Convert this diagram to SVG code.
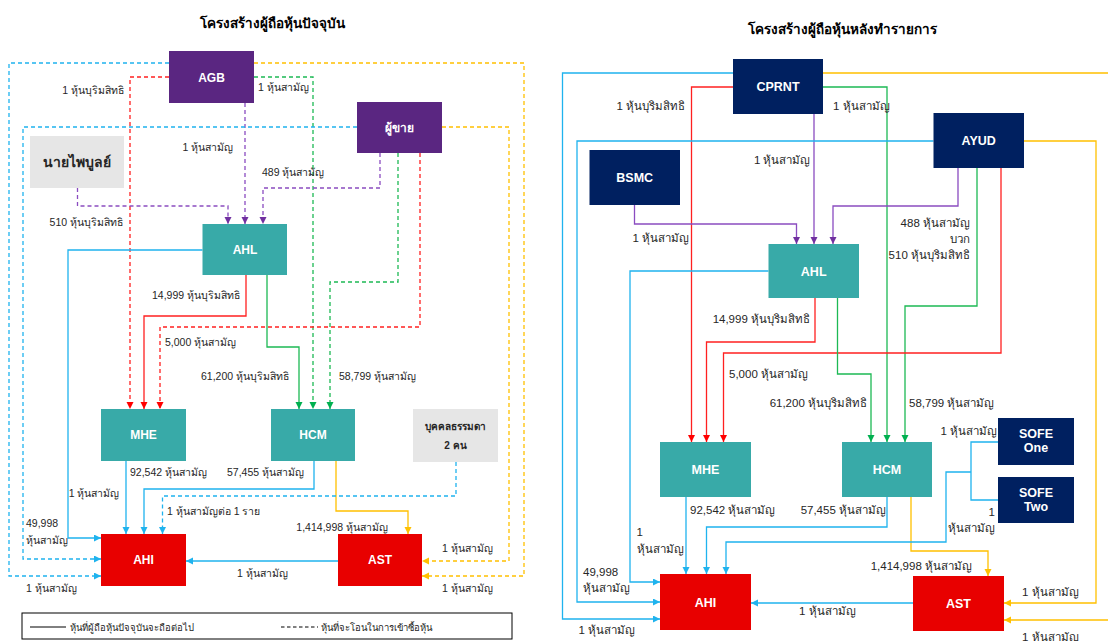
<svg xmlns="http://www.w3.org/2000/svg" width="1108" height="641" viewBox="0 0 1108 641">
<style>
.t{font-family:"Liberation Sans",Arial,sans-serif;fill:#262626}
.title{font-size:13.5px;font-weight:bold;fill:#000;text-anchor:middle}
.l{font-size:10.5px}
.r{font-size:11.5px}
.e{text-anchor:end}
.bx{font-family:"Liberation Sans",Arial,sans-serif;font-weight:bold;fill:#fff;text-anchor:middle}
.c{fill:none;stroke-width:1.3}
.d{stroke-dasharray:4 3}
.cy{stroke:#1FB3EE}.or{stroke:#FFC000}.rd{stroke:#FF2020}.gr{stroke:#1DB954}.pu{stroke:#8A4CC0}
.pur{fill:#5A2681}.nav{fill:#002060}.tea{fill:#38AAA8}.red{fill:#E80000}.gry{fill:#E6E6E6}
</style>
<defs>
<marker id="aC" markerUnits="userSpaceOnUse" markerWidth="8" markerHeight="8" refX="7" refY="3.5" orient="auto"><path d="M0,0 L7,3.5 L0,7 z" fill="#1FB3EE"/></marker>
<marker id="aO" markerUnits="userSpaceOnUse" markerWidth="8" markerHeight="8" refX="7" refY="3.5" orient="auto"><path d="M0,0 L7,3.5 L0,7 z" fill="#FFC000"/></marker>
<marker id="aR" markerUnits="userSpaceOnUse" markerWidth="8" markerHeight="8" refX="7" refY="3.5" orient="auto"><path d="M0,0 L7,3.5 L0,7 z" fill="#FF0000"/></marker>
<marker id="aG" markerUnits="userSpaceOnUse" markerWidth="8" markerHeight="8" refX="7" refY="3.5" orient="auto"><path d="M0,0 L7,3.5 L0,7 z" fill="#00B050"/></marker>
<marker id="aP" markerUnits="userSpaceOnUse" markerWidth="8" markerHeight="8" refX="7" refY="3.5" orient="auto"><path d="M0,0 L7,3.5 L0,7 z" fill="#7030A0"/></marker>
</defs>
<rect width="1108" height="641" fill="#fff"/>

<text class="t title" x="272" y="28">โครงสร้างผู้ถือหุ้นปัจจุบัน</text>
<text class="t title" x="842" y="34">โครงสร้างผู้ถือหุ้นหลังทำรายการ</text>

<g id="connectors">
<!-- left -->
<path class="c d cy" d="M169,63 H9 V576 H101" marker-end="url(#aC)"/>
<path class="c d or" d="M254,63 H524 V576 H422" marker-end="url(#aO)"/>
<path class="c d rd" d="M169,77 H130 V409" marker-end="url(#aR)"/>
<path class="c d gr" d="M254,77 H313 V409" marker-end="url(#aG)"/>
<path class="c d pu" d="M245,103 V224" marker-end="url(#aP)"/>
<path class="c d cy" d="M357,127 H23 V559 H101" marker-end="url(#aC)"/>
<path class="c d or" d="M442,127 H509 V561 H422" marker-end="url(#aO)"/>
<path class="c d pu" d="M380,153 V188 H263 V224" marker-end="url(#aP)"/>
<path class="c d gr" d="M398,153 V282 H330 V409" marker-end="url(#aG)"/>
<path class="c d rd" d="M420,153 V327 H160 V409" marker-end="url(#aR)"/>
<path class="c d pu" d="M77.5,188 V206 H228 V224" marker-end="url(#aP)"/>
<path class="c cy" d="M202.5,250 H68 V538 H101" marker-end="url(#aC)"/>
<path class="c rd" d="M246,275 V316 H144 V409" marker-end="url(#aR)"/>
<path class="c gr" d="M267,275 V347 H299 V409" marker-end="url(#aG)"/>
<path class="c cy" d="M126,461 V534" marker-end="url(#aC)"/>
<path class="c cy" d="M314,461 V489 H144 V534" marker-end="url(#aC)"/>
<path class="c or" d="M336,461 V511 H408 V534" marker-end="url(#aO)"/>
<path class="c d cy" d="M456,462 V496 H162.5 V534" marker-end="url(#aC)"/>
<path class="c cy" d="M338,561 H186" marker-end="url(#aC)"/>
<!-- right -->
<path class="c cy" d="M733,73 H562.5 V619 H660" marker-end="url(#aC)"/>
<path class="c or" d="M823,73 H1114 V620 H1004" marker-end="url(#aO)"/>
<path class="c rd" d="M733,87 H691.5 V442" marker-end="url(#aR)"/>
<path class="c gr" d="M823,87 H887 V442" marker-end="url(#aG)"/>
<path class="c pu" d="M814,114 V244" marker-end="url(#aP)"/>
<path class="c cy" d="M933.5,141 H577 V602 H660" marker-end="url(#aC)"/>
<path class="c or" d="M1024,141 H1096 V603 H1004" marker-end="url(#aO)"/>
<path class="c pu" d="M634.5,205 V224 H796.5 V244" marker-end="url(#aP)"/>
<path class="c pu" d="M958,168 V206 H833 V244" marker-end="url(#aP)"/>
<path class="c gr" d="M977,168 V306 H905 V442" marker-end="url(#aG)"/>
<path class="c rd" d="M1001,168 V353 H723.5 V442" marker-end="url(#aR)"/>
<path class="c cy" d="M768.5,271 H630 V582 H660" marker-end="url(#aC)"/>
<path class="c rd" d="M815,298 V342 H706.5 V442" marker-end="url(#aR)"/>
<path class="c gr" d="M837.5,298 V374 H871 V442" marker-end="url(#aG)"/>
<path class="c cy" d="M686,497 V574" marker-end="url(#aC)"/>
<path class="c cy" d="M887,497 V527 H706.5 V574" marker-end="url(#aC)"/>
<path class="c or" d="M911,497 V551 H988 V576" marker-end="url(#aO)"/>
<path class="c cy" d="M998,442 H971 V500 H998"/>
<path class="c cy" d="M971,472 H946 V542 H726 V574" marker-end="url(#aC)"/>
<path class="c cy" d="M913,603 H751" marker-end="url(#aC)"/>
</g>

<!-- left nodes -->
<g id="agb"><rect class="pur" x="169" y="51" width="85" height="52"/><text class="bx" x="211.5" y="81.5" font-size="12">AGB</text></g>
<g id="seller"><rect class="pur" x="357" y="102" width="85" height="51"/><text class="bx" x="399.5" y="132" font-size="12">ผู้ขาย</text></g>
<g id="paibul"><rect class="gry" x="30" y="136" width="94" height="52"/><text class="t" x="77" y="167" font-size="14" font-weight="bold" text-anchor="middle" fill="#333">นายไพบูลย์</text></g>
<g id="ahl-l"><rect class="tea" x="202.5" y="224" width="84.5" height="51"/><text class="bx" x="245" y="254" font-size="12">AHL</text></g>
<g id="mhe-l"><rect class="tea" x="101" y="409" width="85" height="52"/><text class="bx" x="143.5" y="439" font-size="12">MHE</text></g>
<g id="hcm-l"><rect class="tea" x="271" y="409" width="84" height="52"/><text class="bx" x="313" y="439" font-size="12">HCM</text></g>
<g id="person"><rect class="gry" x="413" y="409" width="85" height="53"/><text class="t" x="455.5" y="429.5" font-size="10" font-weight="bold" text-anchor="middle">บุคคลธรรมดา</text><text class="t" x="455.5" y="448.5" font-size="10" font-weight="bold" text-anchor="middle">2 คน</text></g>
<g id="ahi-l"><rect class="red" x="101" y="534" width="85" height="52"/><text class="bx" x="143.5" y="564" font-size="12">AHI</text></g>
<g id="ast-l"><rect class="red" x="338" y="534" width="84" height="52"/><text class="bx" x="380" y="564" font-size="12">AST</text></g>

<!-- right nodes -->
<g id="cprnt"><rect class="nav" x="733" y="59" width="90" height="55"/><text class="bx" x="778" y="91" font-size="12.5">CPRNT</text></g>
<g id="ayud"><rect class="nav" x="933.5" y="113" width="90.5" height="55"/><text class="bx" x="978.7" y="145" font-size="12.5">AYUD</text></g>
<g id="bsmc"><rect class="nav" x="589.5" y="150" width="90.5" height="55"/><text class="bx" x="634.7" y="182" font-size="12.5">BSMC</text></g>
<g id="ahl-r"><rect class="tea" x="768.5" y="244" width="90.5" height="54"/><text class="bx" x="813.7" y="275.5" font-size="12.5">AHL</text></g>
<g id="mhe-r"><rect class="tea" x="660" y="442" width="91" height="55"/><text class="bx" x="705.5" y="474" font-size="12.5">MHE</text></g>
<g id="hcm-r"><rect class="tea" x="842" y="442" width="90" height="55"/><text class="bx" x="887" y="474" font-size="12.5">HCM</text></g>
<g id="sofe1"><rect class="nav" x="998" y="418" width="76" height="47"/><text class="bx" x="1036" y="438" font-size="12.5">SOFE</text><text class="bx" x="1036" y="452" font-size="12.5">One</text></g>
<g id="sofe2"><rect class="nav" x="998" y="477" width="76" height="46"/><text class="bx" x="1036" y="497" font-size="12.5">SOFE</text><text class="bx" x="1036" y="511" font-size="12.5">Two</text></g>
<g id="ahi-r"><rect class="red" x="660" y="574" width="91" height="56"/><text class="bx" x="705.5" y="606.5" font-size="12.5">AHI</text></g>
<g id="ast-r"><rect class="red" x="913" y="576" width="91" height="55"/><text class="bx" x="958.5" y="608" font-size="12.5">AST</text></g>

<!-- left labels -->
<g id="labels-left">
<text class="t l e" x="124" y="94">1 หุ้นบุริมสิทธิ</text>
<text class="t l" x="258" y="91">1 หุ้นสามัญ</text>
<text class="t l" x="182.5" y="151">1 หุ้นสามัญ</text>
<text class="t l" x="262" y="176">489 หุ้นสามัญ</text>
<text class="t l e" x="123" y="226">510 หุ้นบุริมสิทธิ</text>
<text class="t l e" x="240" y="299">14,999 หุ้นบุริมสิทธิ</text>
<text class="t l" x="165" y="346">5,000 หุ้นสามัญ</text>
<text class="t l e" x="289" y="380">61,200 หุ้นบุริมสิทธิ</text>
<text class="t l" x="339" y="380">58,799 หุ้นสามัญ</text>
<text class="t l" x="130" y="476">92,542 หุ้นสามัญ</text>
<text class="t l e" x="304" y="476">57,455 หุ้นสามัญ</text>
<text class="t l e" x="119.5" y="497">1 หุ้นสามัญ</text>
<text class="t l" x="167" y="515">1 หุ้นสามัญต่อ 1 ราย</text>
<text class="t l" x="26" y="527">49,998</text>
<text class="t l" x="26" y="544">หุ้นสามัญ</text>
<text class="t l e" x="388" y="531">1,414,998 หุ้นสามัญ</text>
<text class="t l" x="237" y="577">1 หุ้นสามัญ</text>
<text class="t l" x="26" y="592">1 หุ้นสามัญ</text>
<text class="t l" x="442" y="552">1 หุ้นสามัญ</text>
<text class="t l" x="442" y="592">1 หุ้นสามัญ</text>
</g>

<!-- right labels -->
<g id="labels-right">
<text class="t r e" x="685" y="110">1 หุ้นบุริมสิทธิ</text>
<text class="t r" x="833" y="110">1 หุ้นสามัญ</text>
<text class="t r e" x="810.5" y="164">1 หุ้นสามัญ</text>
<text class="t r e" x="689" y="242">1 หุ้นสามัญ</text>
<text class="t r e" x="970" y="227">488 หุ้นสามัญ</text>
<text class="t r e" x="970" y="243">บวก</text>
<text class="t r e" x="970" y="259">510 หุ้นบุริมสิทธิ</text>
<text class="t r e" x="810" y="323">14,999 หุ้นบุริมสิทธิ</text>
<text class="t r" x="729" y="378">5,000 หุ้นสามัญ</text>
<text class="t r e" x="867" y="407">61,200 หุ้นบุริมสิทธิ</text>
<text class="t r" x="909" y="407">58,799 หุ้นสามัญ</text>
<text class="t r e" x="997" y="435">1 หุ้นสามัญ</text>
<text class="t r" x="690" y="514">92,542 หุ้นสามัญ</text>
<text class="t r e" x="886" y="514">57,455 หุ้นสามัญ</text>
<text class="t r e" x="995" y="516">1</text>
<text class="t r e" x="995" y="532">หุ้นสามัญ</text>
<text class="t r" x="636.5" y="536">1</text>
<text class="t r" x="636.5" y="553">หุ้นสามัญ</text>
<text class="t r" x="583" y="576">49,998</text>
<text class="t r" x="583" y="592">หุ้นสามัญ</text>
<text class="t r e" x="972" y="570">1,414,998 หุ้นสามัญ</text>
<text class="t r" x="799" y="615">1 หุ้นสามัญ</text>
<text class="t r" x="578.5" y="634">1 หุ้นสามัญ</text>
<text class="t r" x="1022" y="596">1 หุ้นสามัญ</text>
<text class="t r" x="1022" y="641">1 หุ้นสามัญ</text>
</g>

<g id="legend">
<rect x="22" y="613" width="490" height="26" fill="#fff" stroke="#000" stroke-width="1"/>
<line x1="30" y1="627" x2="66" y2="627" stroke="#000" stroke-width="1"/>
<text class="t" x="70" y="630.5" font-size="9.5">หุ้นที่ผู้ถือหุ้นปัจจุบันจะถือต่อไป</text>
<line x1="281" y1="627" x2="318" y2="627" stroke="#000" stroke-width="1" stroke-dasharray="3.5 2.5"/>
<text class="t" x="321" y="630.5" font-size="9.5">หุ้นที่จะโอนในการเข้าซื้อหุ้น</text>
</g>
</svg>
